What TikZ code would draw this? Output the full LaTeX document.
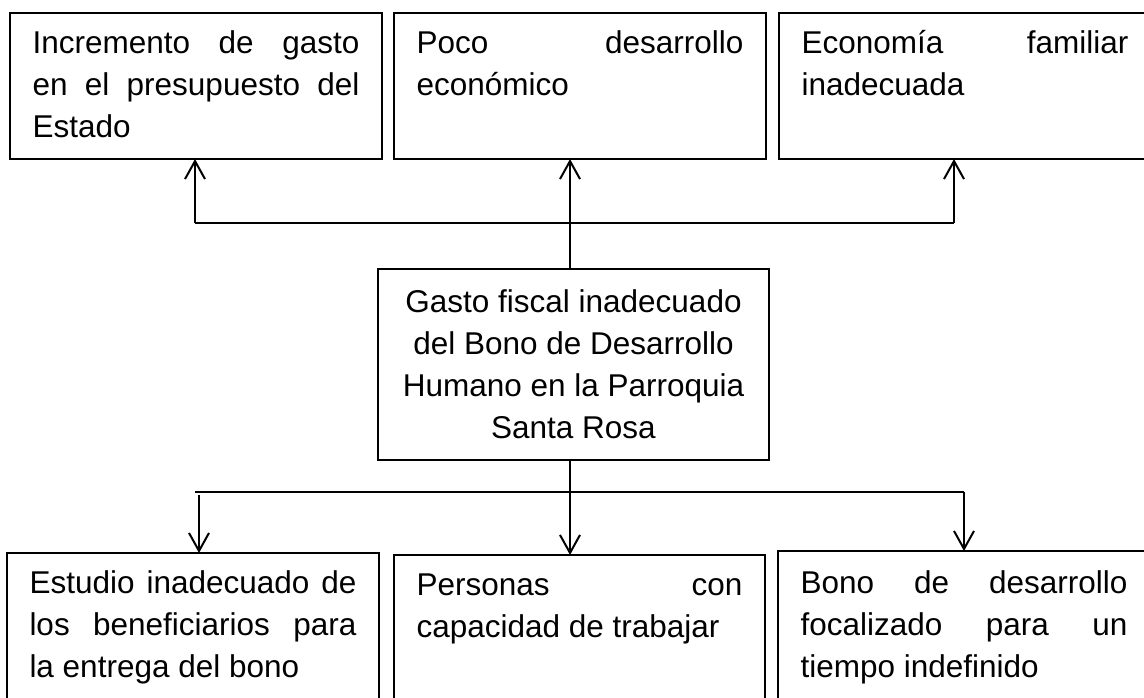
\documentclass[tikz,border=0pt]{standalone}
\usepackage{fontspec}
\setmainfont{Liberation Sans}
\usetikzlibrary{arrows.meta}
\newcommand{\jline}[1]{\makebox[327pt][s]{#1}}
\begin{document}
\begin{tikzpicture}[x=1pt,y=-1pt,
  box/.style={draw, line width=2pt, anchor=north west, inner xsep=22.5pt, inner ysep=0pt, outer sep=0pt,
    font=\fontsize{31.5}{42}\selectfont},
  cbox/.style={draw, line width=2pt, anchor=north west, inner sep=0pt, outer sep=0pt,
    font=\fontsize{31.5}{42}\selectfont},
  arr/.style={-{Straight Barb[length=18pt,width=20pt]}, line width=2pt},
  con/.style={line width=2pt}]
\clip (0,0) rectangle (1144,698);
\fill[white] (0,0) rectangle (1144,698);

% top boxes
\node[box] (t1) at (10,13) {\parbox[c][146pt][t]{327pt}{\rule{0pt}{41pt}\jline{Incremento de gasto}\\\jline{en el presupuesto del}\\Estado}};
\node[box] (t2) at (394,13) {\parbox[c][146pt][t]{327pt}{\rule{0pt}{41pt}\jline{Poco desarrollo}\\económico}};
\node[box] (t3) at (779,13) {\parbox[c][146pt][t]{327pt}{\rule{0pt}{41pt}\jline{Economía familiar}\\inadecuada}};

% center box
\node[cbox] (c) at (378,269) {\parbox[c][191pt][t]{391pt}{\centering\rule{0pt}{43pt}Gasto fiscal inadecuado\\del Bono de Desarrollo\\Humano en la Parroquia\\Santa Rosa}};

% bottom boxes
\node[box] (b1) at (7,553) {\parbox[c][170pt][t]{327pt}{\rule{0pt}{40pt}\jline{Estudio inadecuado de}\\\jline{los beneficiarios para}\\la entrega del bono}};
\node[box] (b2) at (394,555) {\parbox[c][170pt][t]{326pt}{\rule{0pt}{40pt}\makebox[326pt][s]{Personas con}\\capacidad de trabajar}};
\node[box] (b3) at (778,551) {\parbox[c][170pt][t]{327pt}{\rule{0pt}{42pt}\jline{Bono de desarrollo}\\\jline{focalizado para un}\\tiempo indefinido}};

% junction coordinates
\coordinate (ul) at (195,223);
\coordinate (um) at (570,223);
\coordinate (ur) at (954,223);
\coordinate (dl) at (195,492);
\coordinate (dm) at (570,492);
\coordinate (dr) at (964,492);
\coordinate (dl2) at (199,495);

% upper connectors
\draw[arr] (um |- c.north) -- (um |- t2.south);
\draw[con] (ul) -- (ur);
\draw[arr] (ul) -- (ul |- t1.south);
\draw[arr] (ur) -- (ur |- t3.south);

% lower connectors
\draw[arr] (dm |- c.south) -- (dm |- b2.north);
\draw[con] (dl) -- (dr);
\draw[arr] (dl2) -- (dl2 |- b1.north);
\draw[arr] (dr) -- (dr |- b3.north);
\end{tikzpicture}
\end{document}
